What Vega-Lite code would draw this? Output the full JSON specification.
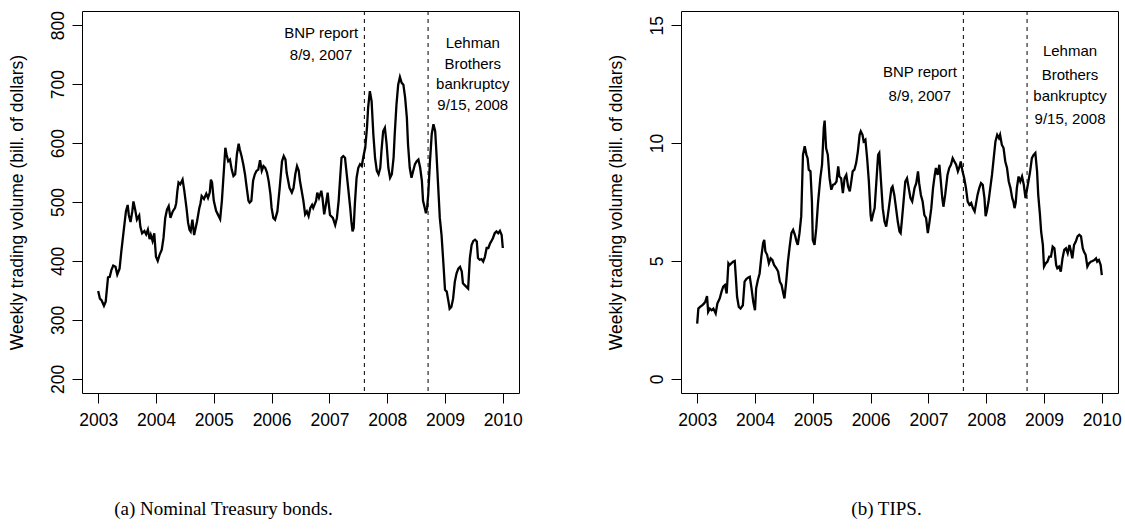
{
  "$schema": "https://vega.github.io/schema/vega-lite/v6.json",
  "background": "white",
  "padding": {"left": 7, "top": 10, "right": 5, "bottom": 5},
  "spacing": 83,
  "config": {
    "view": {"stroke": "black", "strokeWidth": 1},
    "axis": {"domain": false, "grid": false, "tickColor": "black", "tickSize": 10, "tickWidth": 1,
      "labelColor": "black", "labelFont": "Liberation Sans", "labelFontSize": 17.5,
      "titleFont": "Liberation Sans", "titleFontSize": 17.5, "titleFontWeight": "normal", "titleColor": "black",
      "labelFlush": false, "labelOverlap": false, "labelBound": false},
    "axisY": {"labelAngle": -90, "labelAlign": "center", "labelBaseline": "bottom", "labelPadding": 5, "titlePadding": 23},
    "axisX": {"labelPadding": 8},
    "title": {"font": "Liberation Serif", "fontSize": 19, "fontWeight": "normal", "color": "black"}
  },
  "datasets": {
    "nominal": [
      {"t":2003.00,"v":349},{"t":2003.03,"v":336},{"t":2003.06,"v":333},{"t":2003.10,"v":324},{"t":2003.13,"v":331},
      {"t":2003.17,"v":372},{"t":2003.20,"v":373},{"t":2003.23,"v":385},{"t":2003.26,"v":392},{"t":2003.30,"v":390},
      {"t":2003.33,"v":377},{"t":2003.37,"v":387},{"t":2003.40,"v":416},{"t":2003.44,"v":450},{"t":2003.48,"v":484},
      {"t":2003.51,"v":495},{"t":2003.53,"v":478},{"t":2003.56,"v":466},{"t":2003.59,"v":484},{"t":2003.61,"v":501},
      {"t":2003.64,"v":487},{"t":2003.67,"v":470},{"t":2003.71,"v":477},{"t":2003.73,"v":458},{"t":2003.76,"v":447},
      {"t":2003.80,"v":451},{"t":2003.83,"v":445},{"t":2003.86,"v":453},{"t":2003.89,"v":437},{"t":2003.91,"v":444},
      {"t":2003.94,"v":434},{"t":2003.97,"v":447},{"t":2004.00,"v":407},{"t":2004.03,"v":400},{"t":2004.06,"v":410},
      {"t":2004.10,"v":419},{"t":2004.13,"v":439},{"t":2004.16,"v":473},{"t":2004.19,"v":487},{"t":2004.22,"v":493},
      {"t":2004.25,"v":473},{"t":2004.29,"v":484},{"t":2004.33,"v":490},{"t":2004.35,"v":498},{"t":2004.37,"v":519},
      {"t":2004.39,"v":533},{"t":2004.42,"v":530},{"t":2004.46,"v":538},{"t":2004.49,"v":519},{"t":2004.53,"v":488},
      {"t":2004.555,"v":465},{"t":2004.58,"v":453},{"t":2004.60,"v":450},{"t":2004.63,"v":470},{"t":2004.66,"v":444},
      {"t":2004.71,"v":467},{"t":2004.75,"v":490},{"t":2004.77,"v":498},{"t":2004.79,"v":510},{"t":2004.83,"v":505},
      {"t":2004.87,"v":514},{"t":2004.90,"v":507},{"t":2004.93,"v":516},{"t":2004.95,"v":538},{"t":2004.97,"v":533},
      {"t":2005.00,"v":502},{"t":2005.04,"v":485},{"t":2005.07,"v":479},{"t":2005.11,"v":471},{"t":2005.14,"v":502},
      {"t":2005.17,"v":547},{"t":2005.20,"v":592},{"t":2005.22,"v":581},{"t":2005.25,"v":569},{"t":2005.28,"v":572},
      {"t":2005.31,"v":555},{"t":2005.34,"v":544},{"t":2005.37,"v":547},{"t":2005.40,"v":581},{"t":2005.43,"v":599},
      {"t":2005.45,"v":589},{"t":2005.48,"v":578},{"t":2005.51,"v":564},{"t":2005.54,"v":547},{"t":2005.57,"v":524},
      {"t":2005.60,"v":502},{"t":2005.62,"v":499},{"t":2005.65,"v":502},{"t":2005.68,"v":536},{"t":2005.71,"v":547},
      {"t":2005.74,"v":553},{"t":2005.77,"v":555},{"t":2005.80,"v":571},{"t":2005.83,"v":553},{"t":2005.86,"v":561},
      {"t":2005.89,"v":558},{"t":2005.92,"v":550},{"t":2005.95,"v":535},{"t":2005.98,"v":513},{"t":2006.00,"v":490},
      {"t":2006.03,"v":473},{"t":2006.06,"v":470},{"t":2006.10,"v":484},{"t":2006.14,"v":524},{"t":2006.18,"v":569},
      {"t":2006.21,"v":578},{"t":2006.24,"v":572},{"t":2006.26,"v":550},{"t":2006.31,"v":524},{"t":2006.35,"v":516},
      {"t":2006.38,"v":524},{"t":2006.41,"v":547},{"t":2006.44,"v":561},{"t":2006.47,"v":553},{"t":2006.49,"v":536},
      {"t":2006.52,"v":519},{"t":2006.55,"v":502},{"t":2006.58,"v":479},{"t":2006.61,"v":484},{"t":2006.64,"v":476},
      {"t":2006.67,"v":490},{"t":2006.70,"v":495},{"t":2006.72,"v":490},{"t":2006.77,"v":502},{"t":2006.79,"v":516},
      {"t":2006.82,"v":507},{"t":2006.86,"v":519},{"t":2006.88,"v":507},{"t":2006.91,"v":479},{"t":2006.94,"v":496},
      {"t":2006.97,"v":516},{"t":2006.99,"v":496},{"t":2007.01,"v":478},{"t":2007.06,"v":473},{"t":2007.10,"v":461},
      {"t":2007.13,"v":473},{"t":2007.16,"v":502},{"t":2007.19,"v":547},{"t":2007.21,"v":575},{"t":2007.24,"v":578},
      {"t":2007.27,"v":575},{"t":2007.30,"v":547},{"t":2007.33,"v":519},{"t":2007.36,"v":490},{"t":2007.38,"v":467},
      {"t":2007.40,"v":450},{"t":2007.42,"v":456},{"t":2007.44,"v":496},{"t":2007.47,"v":541},{"t":2007.50,"v":558},
      {"t":2007.53,"v":564},{"t":2007.56,"v":561},{"t":2007.59,"v":578},{"t":2007.62,"v":592},{"t":2007.65,"v":626},
      {"t":2007.67,"v":660},{"t":2007.70,"v":688},{"t":2007.73,"v":671},{"t":2007.76,"v":615},{"t":2007.79,"v":575},
      {"t":2007.82,"v":553},{"t":2007.85,"v":547},{"t":2007.88,"v":558},{"t":2007.90,"v":586},{"t":2007.93,"v":620},
      {"t":2007.96,"v":626},{"t":2007.99,"v":598},{"t":2008.02,"v":558},{"t":2008.05,"v":541},{"t":2008.08,"v":547},
      {"t":2008.11,"v":575},{"t":2008.13,"v":615},{"t":2008.16,"v":665},{"t":2008.19,"v":699},{"t":2008.22,"v":712},
      {"t":2008.25,"v":702},{"t":2008.28,"v":699},{"t":2008.31,"v":677},{"t":2008.34,"v":643},{"t":2008.36,"v":598},
      {"t":2008.39,"v":558},{"t":2008.42,"v":541},{"t":2008.45,"v":553},{"t":2008.48,"v":564},{"t":2008.51,"v":569},
      {"t":2008.54,"v":572},{"t":2008.57,"v":558},{"t":2008.60,"v":536},{"t":2008.62,"v":502},{"t":2008.65,"v":490},
      {"t":2008.67,"v":481},{"t":2008.69,"v":490},{"t":2008.71,"v":513},{"t":2008.74,"v":569},{"t":2008.77,"v":615},
      {"t":2008.80,"v":632},{"t":2008.83,"v":620},{"t":2008.85,"v":586},{"t":2008.88,"v":530},{"t":2008.91,"v":473},
      {"t":2008.94,"v":444},{"t":2008.97,"v":399},{"t":2009.00,"v":351},{"t":2009.03,"v":348},{"t":2009.06,"v":331},
      {"t":2009.08,"v":319},{"t":2009.11,"v":322},{"t":2009.14,"v":336},{"t":2009.17,"v":365},{"t":2009.20,"v":379},
      {"t":2009.23,"v":387},{"t":2009.26,"v":390},{"t":2009.29,"v":382},{"t":2009.31,"v":362},{"t":2009.34,"v":359},
      {"t":2009.37,"v":356},{"t":2009.40,"v":353},{"t":2009.43,"v":405},{"t":2009.46,"v":427},{"t":2009.49,"v":434},
      {"t":2009.52,"v":436},{"t":2009.55,"v":433},{"t":2009.57,"v":405},{"t":2009.60,"v":402},{"t":2009.63,"v":403},
      {"t":2009.66,"v":399},{"t":2009.69,"v":407},{"t":2009.72,"v":422},{"t":2009.75,"v":422},{"t":2009.78,"v":430},
      {"t":2009.80,"v":433},{"t":2009.83,"v":439},{"t":2009.86,"v":447},{"t":2009.89,"v":450},{"t":2009.92,"v":447},
      {"t":2009.95,"v":451},{"t":2009.98,"v":444},{"t":2010.00,"v":422}
    ],
    "tips": [
      {"t":2003.00,"v":2.34},{"t":2003.02,"v":2.98},{"t":2003.05,"v":3.05},{"t":2003.09,"v":3.13},{"t":2003.12,"v":3.20},
      {"t":2003.14,"v":3.27},{"t":2003.17,"v":3.51},{"t":2003.19,"v":2.84},{"t":2003.22,"v":2.98},{"t":2003.25,"v":2.91},
      {"t":2003.28,"v":2.98},{"t":2003.32,"v":2.77},{"t":2003.35,"v":3.20},{"t":2003.39,"v":3.41},{"t":2003.42,"v":3.69},
      {"t":2003.45,"v":3.91},{"t":2003.48,"v":3.98},{"t":2003.51,"v":3.62},{"t":2003.54,"v":4.90},{"t":2003.56,"v":4.83},
      {"t":2003.59,"v":4.90},{"t":2003.62,"v":4.97},{"t":2003.65,"v":5.00},{"t":2003.67,"v":4.26},{"t":2003.69,"v":3.48},
      {"t":2003.72,"v":3.05},{"t":2003.75,"v":2.98},{"t":2003.79,"v":3.12},{"t":2003.82,"v":4.12},{"t":2003.85,"v":4.23},
      {"t":2003.88,"v":4.29},{"t":2003.91,"v":4.33},{"t":2003.94,"v":3.84},{"t":2003.97,"v":3.27},{"t":2004.00,"v":2.91},
      {"t":2004.02,"v":3.84},{"t":2004.05,"v":4.19},{"t":2004.08,"v":4.47},{"t":2004.11,"v":5.18},{"t":2004.14,"v":5.75},
      {"t":2004.16,"v":5.89},{"t":2004.18,"v":5.40},{"t":2004.21,"v":5.26},{"t":2004.24,"v":4.90},{"t":2004.27,"v":5.11},
      {"t":2004.30,"v":5.04},{"t":2004.33,"v":4.83},{"t":2004.37,"v":4.69},{"t":2004.40,"v":4.55},{"t":2004.43,"v":4.12},
      {"t":2004.46,"v":3.98},{"t":2004.49,"v":3.62},{"t":2004.51,"v":3.41},{"t":2004.54,"v":4.12},{"t":2004.57,"v":4.97},
      {"t":2004.60,"v":5.61},{"t":2004.63,"v":6.18},{"t":2004.66,"v":6.32},{"t":2004.69,"v":6.11},{"t":2004.72,"v":5.82},
      {"t":2004.74,"v":5.68},{"t":2004.77,"v":6.18},{"t":2004.80,"v":6.90},{"t":2004.83,"v":9.50},{"t":2004.86,"v":9.86},
      {"t":2004.89,"v":9.50},{"t":2004.91,"v":9.36},{"t":2004.93,"v":8.87},{"t":2004.96,"v":8.80},{"t":2004.985,"v":7.52},
      {"t":2005.00,"v":5.89},{"t":2005.03,"v":5.68},{"t":2005.06,"v":6.39},{"t":2005.09,"v":7.45},{"t":2005.13,"v":8.51},
      {"t":2005.16,"v":9.08},{"t":2005.19,"v":10.64},{"t":2005.205,"v":10.95},{"t":2005.23,"v":9.79},{"t":2005.26,"v":9.50},
      {"t":2005.29,"v":8.51},{"t":2005.32,"v":8.02},{"t":2005.35,"v":8.23},{"t":2005.38,"v":8.26},{"t":2005.41,"v":8.37},
      {"t":2005.44,"v":9.01},{"t":2005.46,"v":8.58},{"t":2005.49,"v":8.51},{"t":2005.52,"v":7.88},{"t":2005.55,"v":8.51},
      {"t":2005.58,"v":8.65},{"t":2005.61,"v":8.16},{"t":2005.64,"v":7.95},{"t":2005.67,"v":8.44},{"t":2005.69,"v":8.80},
      {"t":2005.72,"v":8.87},{"t":2005.75,"v":9.15},{"t":2005.78,"v":9.65},{"t":2005.81,"v":10.35},{"t":2005.83,"v":10.50},
      {"t":2005.86,"v":10.35},{"t":2005.88,"v":10.07},{"t":2005.91,"v":10.14},{"t":2005.94,"v":9.36},{"t":2005.97,"v":8.37},
      {"t":2006.00,"v":6.95},{"t":2006.015,"v":6.68},{"t":2006.04,"v":6.96},{"t":2006.07,"v":7.24},{"t":2006.10,"v":8.37},
      {"t":2006.13,"v":9.50},{"t":2006.15,"v":9.58},{"t":2006.18,"v":8.37},{"t":2006.21,"v":7.24},{"t":2006.24,"v":6.68},
      {"t":2006.27,"v":6.46},{"t":2006.30,"v":6.96},{"t":2006.33,"v":7.52},{"t":2006.36,"v":8.09},{"t":2006.38,"v":8.16},
      {"t":2006.41,"v":7.80},{"t":2006.44,"v":7.24},{"t":2006.47,"v":6.67},{"t":2006.50,"v":6.25},{"t":2006.52,"v":6.18},
      {"t":2006.54,"v":6.68},{"t":2006.57,"v":7.52},{"t":2006.60,"v":8.37},{"t":2006.63,"v":8.51},{"t":2006.66,"v":8.09},
      {"t":2006.69,"v":7.66},{"t":2006.72,"v":7.52},{"t":2006.76,"v":8.09},{"t":2006.79,"v":8.30},{"t":2006.82,"v":8.80},
      {"t":2006.84,"v":8.30},{"t":2006.87,"v":7.80},{"t":2006.90,"v":7.52},{"t":2006.93,"v":6.95},{"t":2006.96,"v":6.82},
      {"t":2006.99,"v":6.18},{"t":2007.02,"v":6.68},{"t":2007.05,"v":7.24},{"t":2007.08,"v":8.09},{"t":2007.11,"v":8.65},
      {"t":2007.13,"v":8.94},{"t":2007.16,"v":8.65},{"t":2007.19,"v":9.08},{"t":2007.22,"v":8.23},{"t":2007.24,"v":7.66},
      {"t":2007.26,"v":7.30},{"t":2007.29,"v":7.80},{"t":2007.33,"v":8.65},{"t":2007.36,"v":8.94},{"t":2007.39,"v":9.08},
      {"t":2007.42,"v":9.36},{"t":2007.45,"v":9.22},{"t":2007.48,"v":9.08},{"t":2007.51,"v":8.80},{"t":2007.54,"v":9.01},
      {"t":2007.56,"v":9.22},{"t":2007.59,"v":8.80},{"t":2007.62,"v":8.51},{"t":2007.65,"v":8.09},{"t":2007.68,"v":7.52},
      {"t":2007.71,"v":7.38},{"t":2007.74,"v":7.46},{"t":2007.77,"v":7.24},{"t":2007.80,"v":7.10},{"t":2007.82,"v":7.38},
      {"t":2007.85,"v":7.80},{"t":2007.88,"v":8.09},{"t":2007.91,"v":8.30},{"t":2007.94,"v":8.23},{"t":2007.97,"v":7.66},
      {"t":2007.99,"v":6.90},{"t":2008.01,"v":7.10},{"t":2008.04,"v":7.52},{"t":2008.07,"v":8.09},{"t":2008.10,"v":8.65},
      {"t":2008.13,"v":9.36},{"t":2008.16,"v":10.07},{"t":2008.19,"v":10.35},{"t":2008.22,"v":10.21},{"t":2008.24,"v":10.35},
      {"t":2008.27,"v":9.93},{"t":2008.30,"v":9.79},{"t":2008.33,"v":9.22},{"t":2008.36,"v":8.94},{"t":2008.39,"v":8.37},
      {"t":2008.42,"v":8.09},{"t":2008.45,"v":7.66},{"t":2008.47,"v":7.52},{"t":2008.49,"v":7.24},{"t":2008.51,"v":7.46},
      {"t":2008.53,"v":8.09},{"t":2008.56,"v":8.58},{"t":2008.59,"v":8.37},{"t":2008.62,"v":8.58},{"t":2008.65,"v":8.23},
      {"t":2008.68,"v":7.66},{"t":2008.70,"v":7.95},{"t":2008.73,"v":8.37},{"t":2008.76,"v":8.80},{"t":2008.79,"v":9.36},
      {"t":2008.82,"v":9.50},{"t":2008.85,"v":9.58},{"t":2008.88,"v":8.80},{"t":2008.90,"v":7.80},{"t":2008.93,"v":6.95},
      {"t":2008.95,"v":6.25},{"t":2008.98,"v":5.68},{"t":2009.00,"v":4.76},{"t":2009.03,"v":4.90},{"t":2009.06,"v":4.97},
      {"t":2009.09,"v":5.18},{"t":2009.12,"v":5.18},{"t":2009.15,"v":5.61},{"t":2009.18,"v":5.54},{"t":2009.21,"v":4.83},
      {"t":2009.23,"v":4.69},{"t":2009.26,"v":4.76},{"t":2009.29,"v":4.55},{"t":2009.32,"v":5.11},{"t":2009.35,"v":5.47},
      {"t":2009.38,"v":5.54},{"t":2009.41,"v":5.33},{"t":2009.44,"v":5.68},{"t":2009.46,"v":5.47},{"t":2009.49,"v":5.11},
      {"t":2009.52,"v":5.68},{"t":2009.55,"v":5.82},{"t":2009.58,"v":6.04},{"t":2009.61,"v":6.11},{"t":2009.64,"v":6.04},
      {"t":2009.67,"v":5.54},{"t":2009.69,"v":5.40},{"t":2009.72,"v":5.26},{"t":2009.75,"v":4.76},{"t":2009.78,"v":4.90},
      {"t":2009.81,"v":4.97},{"t":2009.84,"v":5.00},{"t":2009.87,"v":5.04},{"t":2009.90,"v":5.11},{"t":2009.92,"v":4.97},
      {"t":2009.95,"v":5.04},{"t":2009.98,"v":4.83},{"t":2010.00,"v":4.40}
    ],
    "events": [{"t": 2007.605}, {"t": 2008.707}],
    "labels_a": [
      {"t": 2006.857, "v": 786, "label": "BNP report"},
      {"t": 2006.857, "v": 750, "label": "8/9, 2007"},
      {"t": 2009.48, "v": 770, "label": "Lehman"},
      {"t": 2009.48, "v": 734, "label": "Brothers"},
      {"t": 2009.48, "v": 700, "label": "bankruptcy"},
      {"t": 2009.48, "v": 665, "label": "9/15, 2008"}
    ],
    "labels_b": [
      {"t": 2006.853, "v": 13.02, "label": "BNP report"},
      {"t": 2006.853, "v": 12.01, "label": "8/9, 2007"},
      {"t": 2009.45, "v": 13.9, "label": "Lehman"},
      {"t": 2009.45, "v": 12.9, "label": "Brothers"},
      {"t": 2009.45, "v": 12.0, "label": "bankruptcy"},
      {"t": 2009.45, "v": 11.0, "label": "9/15, 2008"}
    ]
  },
  "hconcat": [
    {
      "width": 437, "height": 382,
      "title": {"text": "(a) Nominal Treasury bonds.", "orient": "bottom", "anchor": "middle", "frame": "group", "dx": -77, "offset": 71},
      "layer": [
        {"data": {"name": "nominal"}, "mark": {"type": "line", "color": "black", "strokeWidth": 2.3},
          "encoding": {
            "x": {"field": "t", "type": "quantitative", "scale": {"domain": [2002.72, 2010.28], "nice": false, "zero": false},
              "axis": {"values": [2003, 2004, 2005, 2006, 2007, 2008, 2009, 2010], "format": "d", "title": null}},
            "y": {"field": "v", "type": "quantitative", "scale": {"domain": [176, 824], "nice": false, "zero": false},
              "axis": {"values": [200, 300, 400, 500, 600, 700, 800], "title": "Weekly trading volume (bill. of dollars)"}}
          }},
        {"data": {"name": "events"}, "mark": {"type": "rule", "color": "black", "strokeWidth": 1, "strokeDash": [4, 4]},
          "encoding": {"x": {"field": "t", "type": "quantitative", "scale": {"domain": [2002.72, 2010.28], "nice": false, "zero": false}}}},
        {"data": {"name": "labels_a"}, "mark": {"type": "text", "font": "Liberation Sans", "fontSize": 15, "align": "center", "baseline": "middle", "color": "black"},
          "encoding": {
            "x": {"field": "t", "type": "quantitative", "scale": {"domain": [2002.72, 2010.28], "nice": false, "zero": false}},
            "y": {"field": "v", "type": "quantitative", "scale": {"domain": [176, 824], "nice": false, "zero": false}},
            "text": {"field": "label"}
          }}
      ]
    },
    {
      "width": 437, "height": 382,
      "title": {"text": "(b) TIPS.", "orient": "bottom", "anchor": "middle", "frame": "group", "dx": -13, "offset": 71},
      "layer": [
        {"data": {"name": "tips"}, "mark": {"type": "line", "color": "black", "strokeWidth": 2.3},
          "encoding": {
            "x": {"field": "t", "type": "quantitative", "scale": {"domain": [2002.72, 2010.28], "nice": false, "zero": false},
              "axis": {"values": [2003, 2004, 2005, 2006, 2007, 2008, 2009, 2010], "format": "d", "title": null}},
            "y": {"field": "v", "type": "quantitative", "scale": {"domain": [-0.6, 15.6], "nice": false, "zero": false},
              "axis": {"values": [0, 5, 10, 15], "title": "Weekly trading volume (bill. of dollars)"}}
          }},
        {"data": {"name": "events"}, "mark": {"type": "rule", "color": "black", "strokeWidth": 1, "strokeDash": [4, 4]},
          "encoding": {"x": {"field": "t", "type": "quantitative", "scale": {"domain": [2002.72, 2010.28], "nice": false, "zero": false}}}},
        {"data": {"name": "labels_b"}, "mark": {"type": "text", "font": "Liberation Sans", "fontSize": 15, "align": "center", "baseline": "middle", "color": "black"},
          "encoding": {
            "x": {"field": "t", "type": "quantitative", "scale": {"domain": [2002.72, 2010.28], "nice": false, "zero": false}},
            "y": {"field": "v", "type": "quantitative", "scale": {"domain": [-0.6, 15.6], "nice": false, "zero": false}},
            "text": {"field": "label"}
          }}
      ]
    }
  ]
}
